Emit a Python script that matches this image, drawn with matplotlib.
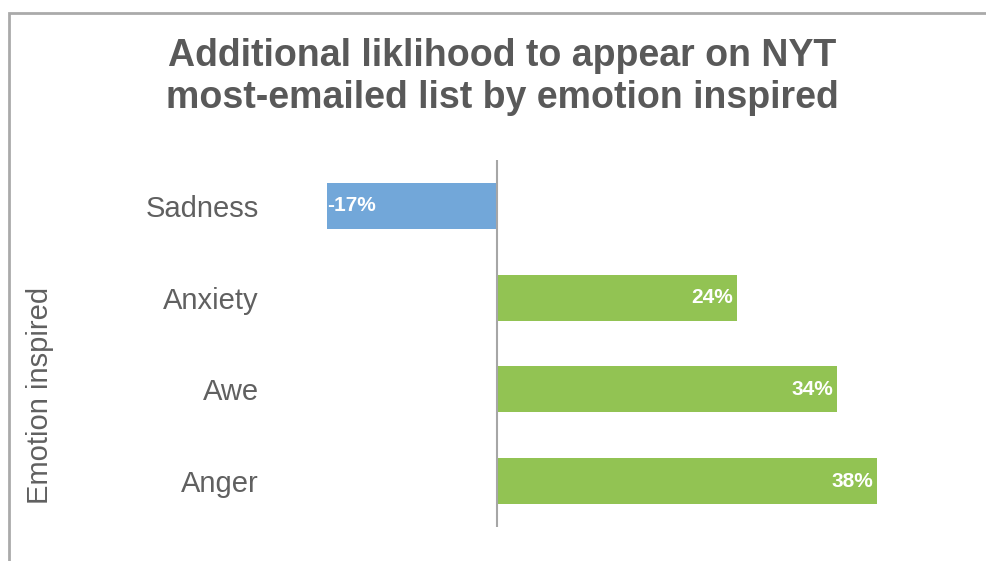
import matplotlib.pyplot as plt
from matplotlib.patches import Rectangle

# data
emotions = ["Sadness", "Anxiety", "Awe", "Anger"]
likelihood = [-17, 24, 34, 38]
value_labels = ["-17%", "24%", "34%", "38%"]

BLUE = "#72a7d9"
GREEN = "#92c353"
GRAY_TXT = "#595959"

plt.rcParams['font.family'] = ['Liberation Sans', 'DejaVu Sans']

fig = plt.figure(figsize=(9.87, 5.61), dpi=100)
ax = fig.add_axes([270 / 987, 1 - 527 / 561, 637 / 987, 367 / 561])

ypos = list(range(len(emotions)))
colors = [BLUE if v < 0 else GREEN for v in likelihood]
ax.barh(ypos, likelihood, height=0.5, color=colors)

for y, v, lab in zip(ypos, likelihood, value_labels):
    if v < 0:
        ax.text(v + 0.05, y, lab, ha='left', va='center', color='white',
                fontsize=15, fontweight='bold')
    else:
        ax.text(v - 0.4, y, lab, ha='right', va='center', color='white',
                fontsize=15, fontweight='bold')

ax.set_xlim(-22.7, 41)
ax.set_ylim(len(emotions) - 0.5, -0.5)
ax.axvline(0, color='#a6a6a6', lw=1.5)
for s in ax.spines.values():
    s.set_visible(False)
ax.set_xticks([])
ax.set_yticks(ypos)
ax.set_yticklabels(emotions, fontsize=21, color='#606060')
ax.tick_params(axis='y', length=0, pad=8)

fig.text(40 / 987, 1 - 395 / 561, "Emotion inspired", rotation=90, ha='center', va='center',
         fontsize=21, color='#606060')

fig.text(502 / 987, 1 - 77 / 561, "Additional liklihood to appear on NYT\nmost-emailed list by emotion inspired",
         ha='center', va='center', fontsize=27, fontweight='bold', color=GRAY_TXT, linespacing=1.25)

# outer frame, only top and left edges are visible in the source
fig.patches.append(Rectangle((9 / 987, -0.1), 1.2, 1 - 13 / 561 + 0.1, transform=fig.transFigure,
                             fill=False, edgecolor='#aaaaaa', lw=2))

fig.savefig("out.png", dpi=100)
